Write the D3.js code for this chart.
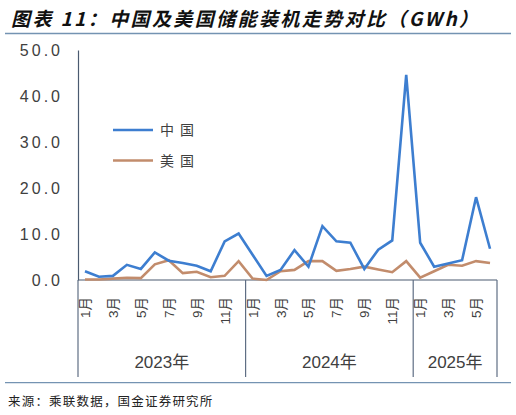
<!DOCTYPE html>
<html>
<head>
<meta charset="utf-8">
<script src="https://cdn.jsdelivr.net/npm/d3@7"></script>
<style>
  html, body { margin: 0; padding: 0; background: #fff; }
  svg { display: block; font-family: "Liberation Sans", "Noto Sans CJK SC", sans-serif; }
</style>
</head>
<body>
<div id="chart"></div>
<script>
// months Jan 2023 .. Jun 2025
const months = [
	'2023-01','2023-02','2023-03','2023-04','2023-05','2023-06','2023-07','2023-08','2023-09','2023-10','2023-11','2023-12',
	'2024-01','2024-02','2024-03','2024-04','2024-05','2024-06','2024-07','2024-08','2024-09','2024-10','2024-11','2024-12',
	'2025-01','2025-02','2025-03','2025-04','2025-05','2025-06'
]
const china = [1.9, 0.7, 0.9, 3.3, 2.4, 6.0, 4.2, 3.7, 3.1, 1.9, 8.4, 10.1,
	5.5, 0.9, 2.2, 6.5, 2.9, 11.7, 8.4, 8.1, 2.4, 6.6, 8.6, 44.6,
	8.1, 2.9, 3.6, 4.3, 18.0, 6.8]
const usa = [0.1, 0.1, 0.3, 0.5, 0.4, 3.4, 4.3, 1.5, 1.8, 0.6, 0.9, 4.1,
	0.3, 0.0, 1.9, 2.2, 4.1, 4.1, 2.0, 2.4, 2.9, 2.3, 1.7, 4.1,
	0.5, 1.9, 3.3, 3.1, 4.1, 3.7]
const years = ['2023年', '2024年', '2025年']
const yTicks = [0, 10, 20, 30, 40, 50]
const seriesNames = ['中国', '美国']
const colors = ['#3d7ed0', '#c28c6c']

const width = 516, height = 415
const margin = {left: 78, right: 19, top: 50, axis: 280}

const svg = d3.select('#chart').append('svg')
	.attr('width', width)
	.attr('height', height)

// title
svg.append('text')
	.attr('x', 11)
	.attr('y', 26)
	.style('font-family', '"Noto Sans CJK SC", sans-serif')
	.style('font-size', '19px')
	.style('font-style', 'italic')
	.style('font-weight', 700)
	.style('letter-spacing', '2.4px')
	.style('fill', '#111')
	.text('图表 11：中国及美国储能装机走势对比（GWh）')

svg.append('line')
	.attr('x1', 5).attr('x2', 511)
	.attr('y1', 33.5).attr('y2', 33.5)
	.style('stroke', '#7493b2')
	.style('stroke-width', 1.5)

const x = d3.scaleBand()
	.domain(months)
	.range([margin.left, width - margin.right])

const y = d3.scaleLinear()
	.domain([0, 50])
	.range([margin.axis, margin.top])

// y axis
const yAxis = g => g
	.attr('transform', `translate(${ margin.left },0)`)
	.call(d3.axisLeft(y).tickValues(yTicks).tickSize(0).tickPadding(15).tickFormat(d3.format('.1f')))
	.call(g => g.select('.domain').attr('stroke', '#4a5a70').attr('stroke-width', 1.2))
	.selectAll('text')
	.attr('font-family', '"Liberation Sans", sans-serif')
	.attr('font-size', 16)
	.attr('dy', '0.36em')
	.style('letter-spacing', '3px')
	.attr('fill', '#404040')

svg.append('g').call(yAxis)

// x axis line
svg.append('line')
	.attr('x1', margin.left).attr('x2', width - margin.right)
	.attr('y1', margin.axis).attr('y2', margin.axis)
	.style('stroke', '#4a5a70')
	.style('stroke-width', 1.2)

// group separators
const yearStarts = years.map(yr => months.findIndex(m => m.startsWith(yr.slice(0, 4))))
const bounds = yearStarts.map(i => x(months[ i ])).concat([ width - margin.right ])
svg.append('g')
	.selectAll('line')
	.data(bounds)
	.enter().append('line')
	.attr('x1', d => d).attr('x2', d => d)
	.attr('y1', margin.axis).attr('y2', 377)
	.style('stroke', '#5f6e84')
	.style('stroke-width', 1.2)

// month labels (odd months)
svg.append('g')
	.selectAll('text')
	.data(months.filter(m => +m.slice(5) % 2 === 1))
	.enter().append('text')
	.attr('transform', d => `translate(${ x(d) + x.bandwidth() / 2 + 5 },297) rotate(-90)`)
	.attr('text-anchor', 'end')
	.style('font-family', '"Liberation Sans", "Noto Sans CJK SC", sans-serif')
	.style('font-size', '13.5px')
	.style('fill', '#404040')
	.text(d => +d.slice(5) + '月')

// year labels
svg.append('g')
	.selectAll('text')
	.data(years)
	.enter().append('text')
	.attr('x', (d, i) => (bounds[ i ] + bounds[ i + 1 ]) / 2)
	.attr('y', 368)
	.attr('text-anchor', 'middle')
	.style('font-family', '"Liberation Sans", "Noto Sans CJK SC", sans-serif')
	.style('font-size', '17px')
	.style('fill', '#404040')
	.text(d => d)

// lines
const line = d3.line()
	.x((d, i) => x(months[ i ]) + x.bandwidth() / 2)
	.y(d => y(d))

svg.append('g')
	.selectAll('path')
	.data([ usa, china ])
	.enter().append('path')
	.attr('d', line)
	.attr('fill', 'none')
	.attr('stroke', (d, i) => colors[ 1 - i ])
	.attr('stroke-width', 2.6)
	.attr('stroke-linejoin', 'miter')

// legend
const legend = svg.append('g')
	.selectAll('g')
	.data(seriesNames)
	.enter().append('g')
	.attr('transform', (d, i) => `translate(113,${ 130 + i * 30.5 })`)

legend.append('line')
	.attr('x1', 0).attr('x2', 40)
	.attr('stroke', (d, i) => colors[ i ])
	.attr('stroke-width', 2.6)

legend.append('text')
	.attr('x', 47)
	.attr('y', 5)
	.style('font-family', '"Noto Sans CJK SC", sans-serif')
	.style('font-size', '14px')
	.style('letter-spacing', '6px')
	.style('fill', '#404040')
	.text(d => d)

// footer
svg.append('line')
	.attr('x1', 5).attr('x2', 511)
	.attr('y1', 382.7).attr('y2', 382.7)
	.style('stroke', '#7493b2')
	.style('stroke-width', 1.2)

svg.append('text')
	.attr('x', 8)
	.attr('y', 406)
	.style('font-family', '"Noto Sans CJK SC", sans-serif')
	.style('font-size', '12.5px')
	.style('letter-spacing', '1.2px')
	.style('fill', '#222')
	.text('来源：乘联数据，国金证券研究所')
</script>
</body>
</html>
